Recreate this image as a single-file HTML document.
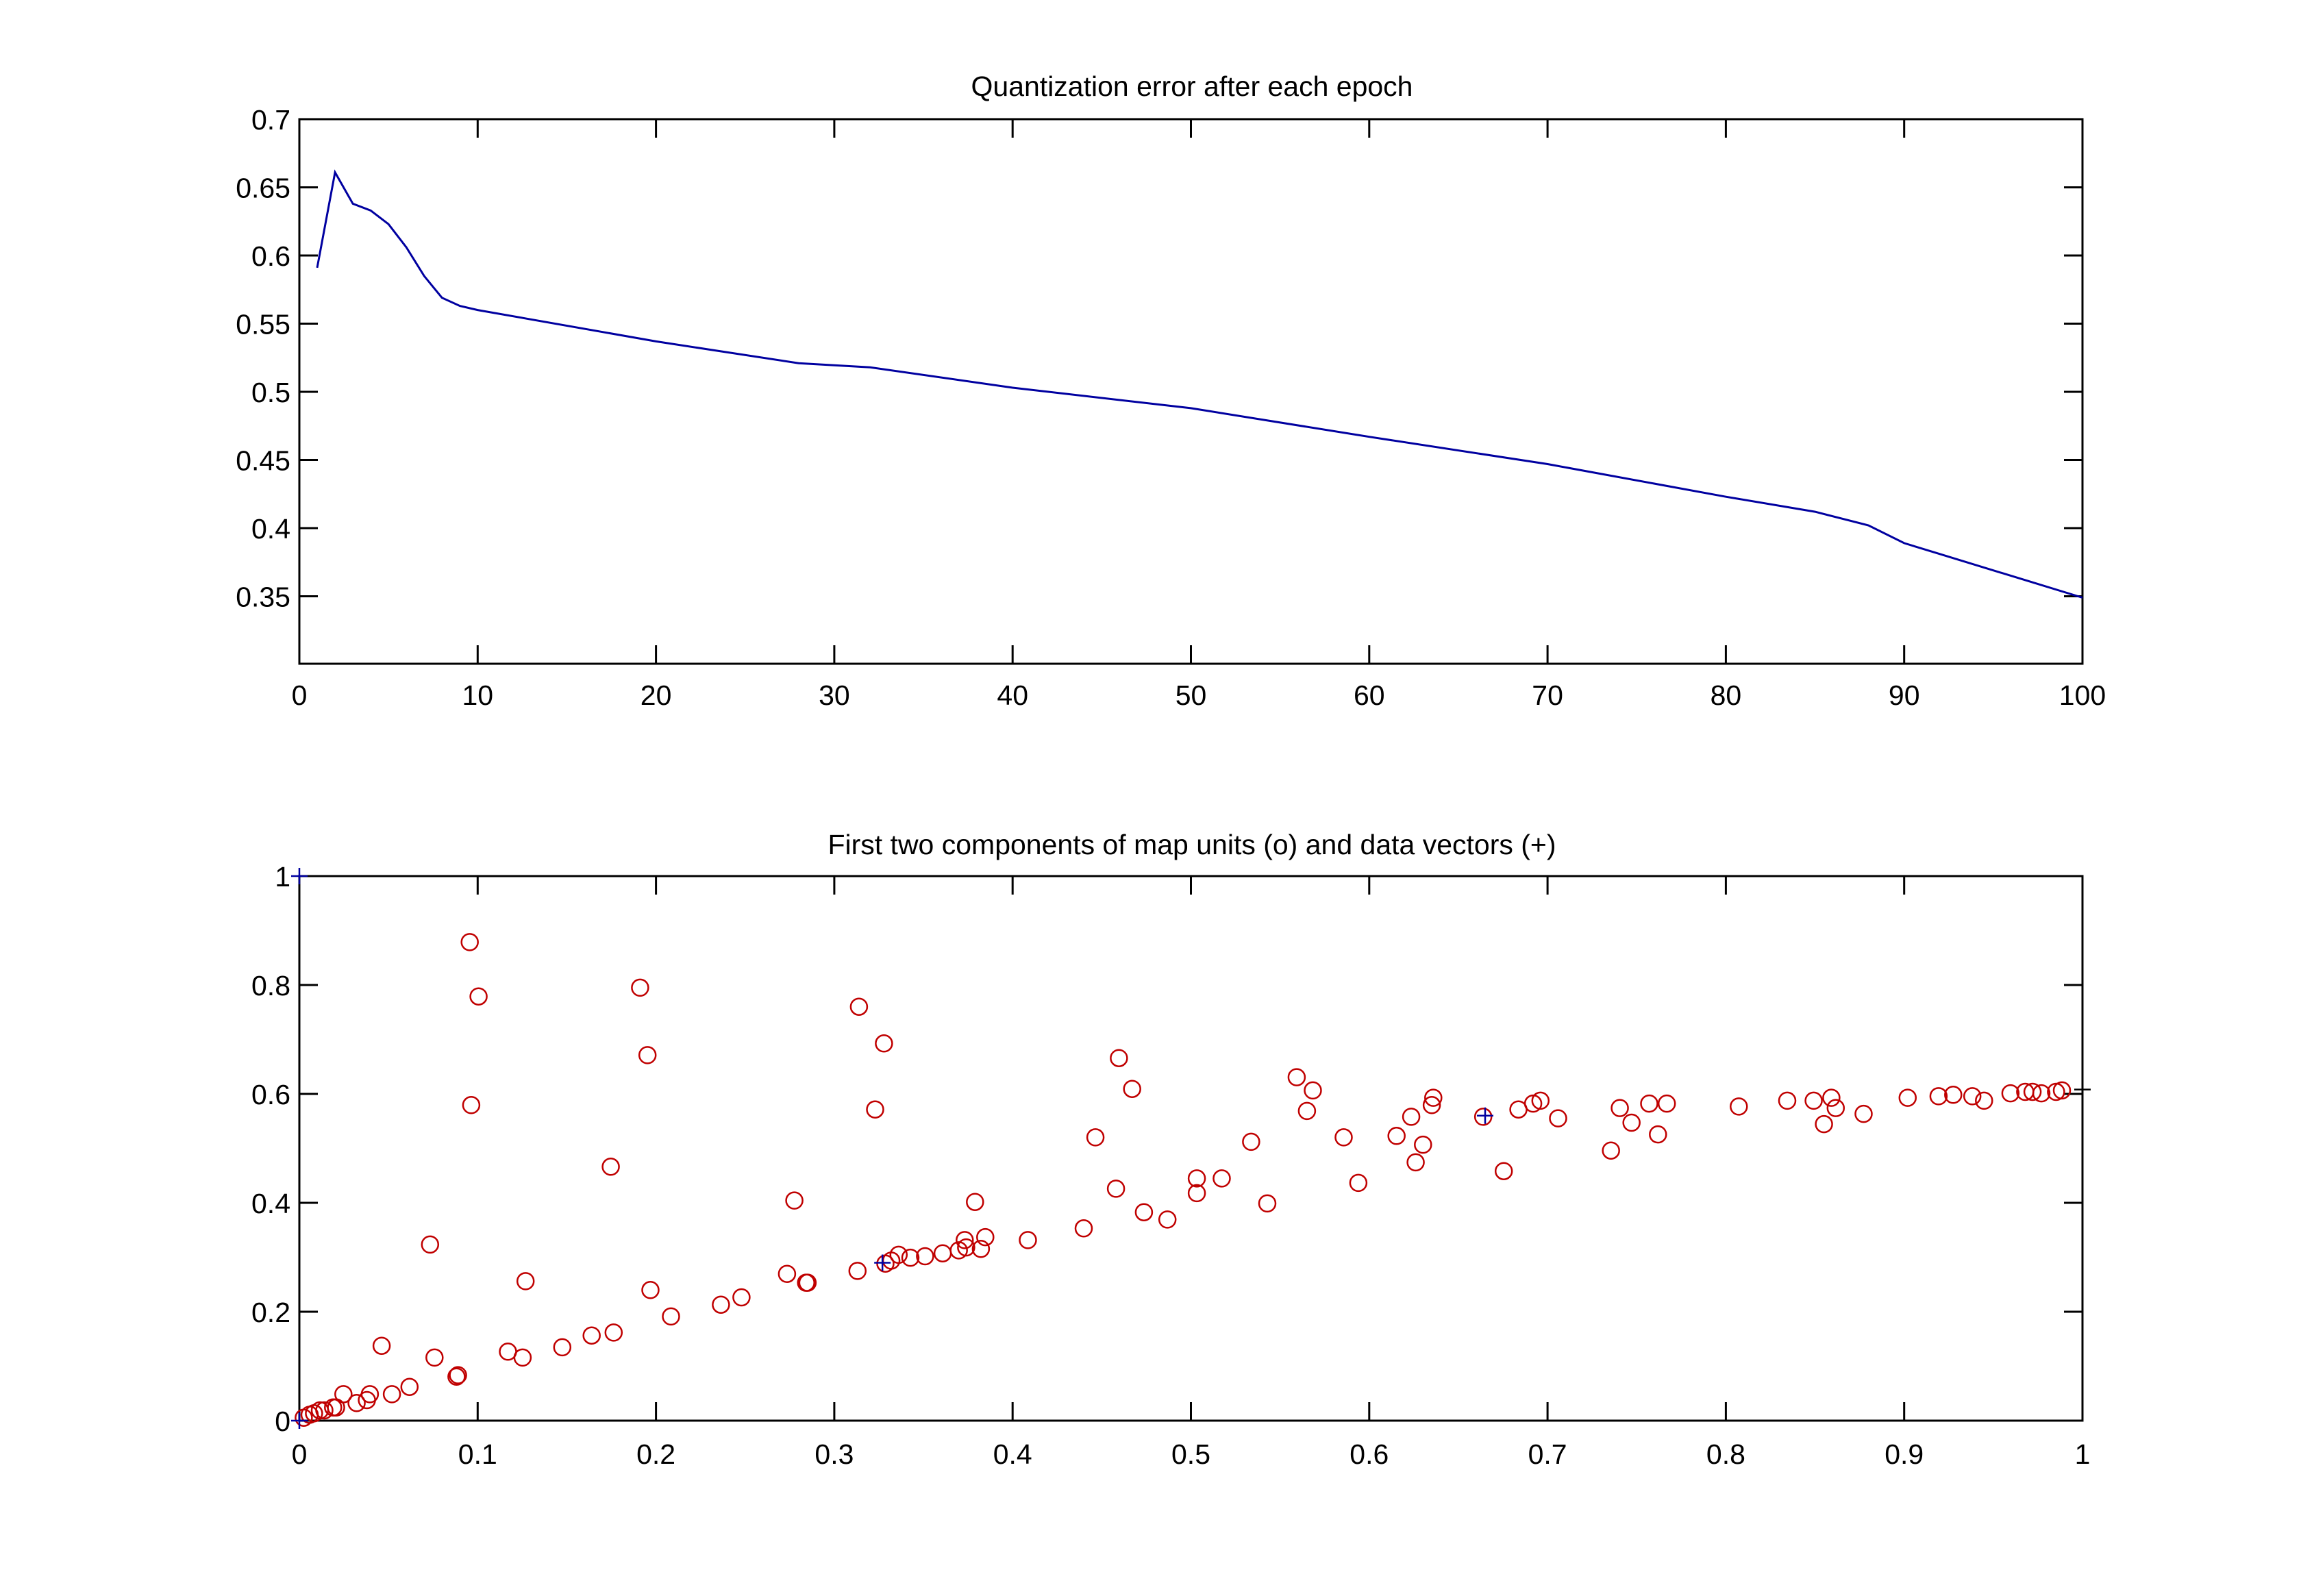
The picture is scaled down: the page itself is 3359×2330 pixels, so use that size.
<!DOCTYPE html>
<html><head><meta charset="utf-8"><style>
html,body{margin:0;padding:0;background:#fff;}
svg{display:block;}
text{font-family:"Liberation Sans",sans-serif;font-size:41px;fill:#000;}
</style></head><body>
<svg id="s" width="3359" height="2330" viewBox="0 0 3359 2330" xmlns="http://www.w3.org/2000/svg">
<rect width="3359" height="2330" fill="#fff"/>
<g id="g"></g>
</svg>
<script>
var out=[];
var L=437,R=3040;
// Top axes
var T1=174,B1=969;
function ty(v){return T1+(0.7-v)*1990;}
function tx(e){return L+26.03*e;}
out.push('<rect x="'+L+'" y="'+T1+'" width="'+(R-L)+'" height="'+(B1-T1)+'" fill="none" stroke="#000" stroke-width="3"/>');
for(var i=0;i<=10;i++){var x=tx(i*10);
 out.push('<line x1="'+x+'" y1="'+B1+'" x2="'+x+'" y2="'+(B1-27)+'" stroke="#000" stroke-width="3"/>');
 out.push('<line x1="'+x+'" y1="'+T1+'" x2="'+x+'" y2="'+(T1+27)+'" stroke="#000" stroke-width="3"/>');
 out.push('<text x="'+x+'" y="1029" text-anchor="middle">'+(i*10)+'</text>');}
var yt=[0.35,0.4,0.45,0.5,0.55,0.6,0.65,0.7];
yt.forEach(function(v){var y=ty(v);
 out.push('<line x1="'+L+'" y1="'+y+'" x2="'+(L+27)+'" y2="'+y+'" stroke="#000" stroke-width="3"/>');
 out.push('<line x1="'+R+'" y1="'+y+'" x2="'+(R-27)+'" y2="'+y+'" stroke="#000" stroke-width="3"/>');
 out.push('<text x="424" y="'+(y+15)+'" text-anchor="end">'+v+'</text>');});
out.push('<text x="1740" y="140" text-anchor="middle">Quantization error after each epoch</text>');
var d=[[1,0.591],[2,0.661],[3,0.638],[4,0.633],[5,0.623],[6,0.606],[7,0.585],[8,0.569],[9,0.563],[10,0.560],[20,0.537],[28,0.521],[32,0.518],[40,0.503],[50,0.488],[60,0.467],[70,0.447],[80,0.423],[85,0.412],[88,0.402],[90,0.389],[92,0.381],[97,0.361],[100,0.349]];
out.push('<polyline fill="none" stroke="#0000a0" stroke-width="3" points="'+d.map(function(p){return tx(p[0]).toFixed(1)+','+ty(p[1]).toFixed(1);}).join(' ')+'"/>');
// Bottom axes
var T2=1279,B2=2074;
function bx(v){return L+v*(R-L);} function by(v){return B2-v*(B2-T2);}
out.push('<rect x="'+L+'" y="'+T2+'" width="'+(R-L)+'" height="'+(B2-T2)+'" fill="none" stroke="#000" stroke-width="3"/>');
for(var i=0;i<=10;i++){var x=bx(i/10);
 out.push('<line x1="'+x+'" y1="'+B2+'" x2="'+x+'" y2="'+(B2-27)+'" stroke="#000" stroke-width="3"/>');
 out.push('<line x1="'+x+'" y1="'+T2+'" x2="'+x+'" y2="'+(T2+27)+'" stroke="#000" stroke-width="3"/>');
 var lb=i==0?'0':(i==10?'1':'0.'+i);
 out.push('<text x="'+x+'" y="2137" text-anchor="middle">'+lb+'</text>');}
[0,0.2,0.4,0.6,0.8,1].forEach(function(v){var y=by(v);
 out.push('<line x1="'+L+'" y1="'+y+'" x2="'+(L+27)+'" y2="'+y+'" stroke="#000" stroke-width="3"/>');
 out.push('<line x1="'+R+'" y1="'+y+'" x2="'+(R-27)+'" y2="'+y+'" stroke="#000" stroke-width="3"/>');
 out.push('<text x="424" y="'+(y+15)+'" text-anchor="end">'+v+'</text>');});
out.push('<text x="1740" y="1247" text-anchor="middle">First two components of map units (o) and data vectors (+)</text>');
var c=[[207,966],[211,964],[214,963],[218,961],[221,961],[227,959],[229,959],[234,950],[243,956],[250,954],[252,950],[260,917],[267,950],[279,945],[293,848],[296,925],[312,937],[311,938],[320,642],[326,679],[321,753],[346,921],[356,925],[358,873],[383,918],[403,910],[418,908],[416,795],[436,673],[441,719],[443,879],[457,897],[491,889],[505,884],[536,868],[541,818],[549,874],[550,874],[584,866],[585,686],[596,756],[602,711],[603,861],[607,859],[612,855],[620,857],[630,856],[642,854],[653,852],[657,845],[658,850],[664,819],[668,851],[671,843],[700,845],[738,837],[746,775],[760,810],[762,721],[771,742],[779,826],[795,831],[815,803],[815,813],[832,803],[852,778],[863,820],[883,734],[890,757],[894,743],[915,775],[925,806],[951,774],[961,761],[964,792],[969,780],[975,753],[976,748],[1010,761],[1024,798],[1034,756],[1044,752],[1049,750],[1061,762],[1097,784],[1103,755],[1111,765],[1123,752],[1129,773],[1135,752],[1184,754],[1217,750],[1235,750],[1242,766],[1247,748],[1250,755],[1269,759],[1299,748],[1320,747],[1330,746],[1343,747],[1351,750],[1369,745],[1379,744],[1384,744],[1390,745],[1400,744],[1404,743]];
c.forEach(function(p){var x=L+(p[0]-204)/1214*(R-L),y=B2-(968-p[1])/371*(B2-T2);
 out.push('<circle cx="'+x.toFixed(1)+'" cy="'+y.toFixed(1)+'" r="12" fill="none" stroke="#c00000" stroke-width="2.5"/>');});
[[0,0,'#0000a0'],[0,1,'#0000a0'],[0.327,0.29,'#0000a0'],[0.665,0.56,'#0000a0'],[1,0.608,'#000']].forEach(function(p){var x=bx(p[0]),y=by(p[1]);
 out.push('<path d="M'+(x-12)+' '+y+'H'+(x+12)+'M'+x+' '+(y-12)+'V'+(y+12)+'" stroke="'+p[2]+'" stroke-width="2.5"/>');});
document.getElementById('g').innerHTML=out.join('');
</script>
</body></html>
